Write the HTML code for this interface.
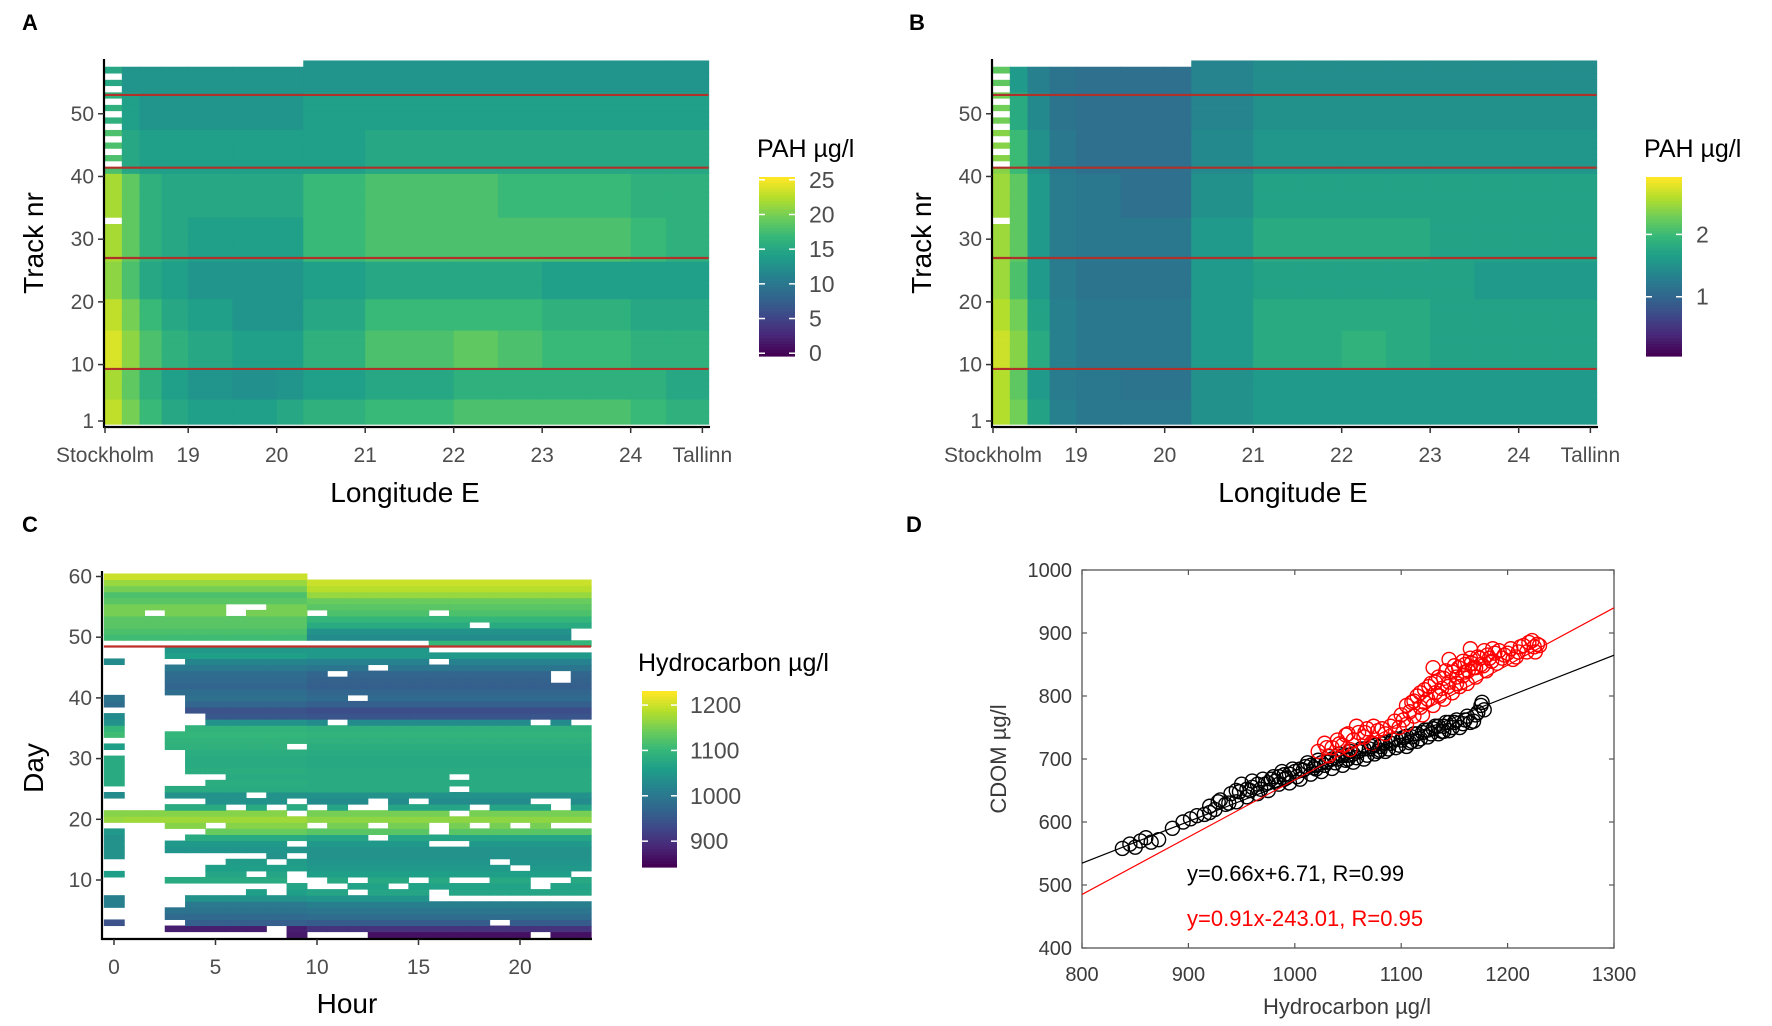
<!DOCTYPE html>
<html><head><meta charset="utf-8"><style>
html,body{margin:0;padding:0;background:#fff;}
svg{display:block;font-family:"Liberation Sans",Arial,sans-serif;}
</style></head><body>
<svg id="fig" width="1772" height="1026" viewBox="0 0 1772 1026" xmlns="http://www.w3.org/2000/svg">
<text x="22" y="30" font-size="22" font-weight="bold">A</text>
<text x="909" y="30" font-size="22" font-weight="bold">B</text>
<text x="22" y="532" font-size="22" font-weight="bold">C</text>
<text x="906" y="532" font-size="22" font-weight="bold">D</text>
<g id="pa"></g>
<g id="pb"></g>
<g id="pc"></g>
<g id="pd"></g>
</svg>
<script>
// ---------- data: panels A/B ----------
const colEdgesLon = [18.04,18.25,18.45,18.7,19.0,19.5,20.0,20.3,21.0,21.5,22.0,22.5,23.0,23.5,24.0,24.4,24.88];
const rowBandTracks = [[1,4],[5,9],[10,15],[16,20],[21,26],[27,33],[34,40],[41,47],[48,53],[54,58]];
const pahA = [
[23,20,17,15,14,14,15,16,17,17,18,18,18,18,17,16],
[22,19,16,14,13,12.5,13,14,15,15,16,16,16,16,16,15],
[24,21,18,16,15,14,14,16,18,18,19,18,17,17,16,16],
[23,20,17,15,14,13,13,15,17,17,17,17,16,16,15,15],
[21,18,15,14,13,13,13,14,15,15,15,15,14,14,14,14],
[22,19,16,15,14,14,14,17,18,18,18,18,18,18,17,16],
[22,19,16,15,15,15,15,17,18,18,18,17,17,17,16,16],
[18,15,14,14,14,14,14,14,15,15,15,15,15,15,15,15],
[16,14,13,13,13,13,13,14,14,14,14,14,14,14,14,14],
[15,13,13,13,13,13,13,13,13,13,13,13,13,13,13,13]];
const pahB = [
[2.6,2.3,1.7,1.3,1.2,1.2,1.2,1.5,1.6,1.6,1.6,1.6,1.6,1.6,1.6,1.6],
[2.6,2.2,1.6,1.25,1.2,1.15,1.15,1.5,1.6,1.6,1.6,1.6,1.6,1.6,1.6,1.6],
[2.7,2.4,1.8,1.3,1.2,1.2,1.2,1.6,1.8,1.8,1.9,1.8,1.7,1.7,1.7,1.7],
[2.6,2.3,1.7,1.3,1.2,1.2,1.2,1.6,1.8,1.8,1.8,1.8,1.7,1.7,1.7,1.7],
[2.5,2.1,1.6,1.25,1.15,1.15,1.15,1.6,1.7,1.7,1.7,1.7,1.7,1.6,1.6,1.6],
[2.5,2.2,1.6,1.25,1.2,1.2,1.2,1.6,1.8,1.8,1.8,1.8,1.7,1.7,1.7,1.7],
[2.5,2.2,1.6,1.25,1.2,1.1,1.1,1.5,1.7,1.7,1.7,1.7,1.7,1.7,1.7,1.7],
[2.4,2.0,1.5,1.2,1.1,1.1,1.1,1.4,1.55,1.55,1.55,1.55,1.55,1.55,1.55,1.55],
[2.3,1.8,1.4,1.15,1.1,1.1,1.1,1.35,1.5,1.5,1.5,1.5,1.5,1.5,1.5,1.5],
[2.2,1.6,1.3,1.15,1.1,1.1,1.1,1.35,1.45,1.45,1.45,1.45,1.45,1.45,1.45,1.45]];
const whiteTracksA = [42,44,46,48,50,52,54,56,33];
const whiteTracksB = [42,44,46,48,50,52,54,56,33];
const redTracks = [9.3,27,41.4,53];
const lonTickVals = [18.06,19,20,21,22,23,24,24.81];
const lonTickLabels = ["Stockholm","19","20","21","22","23","24","Tallinn"];
const trackTickVals = [1,10,20,30,40,50];
const legendTicksA = [0,5,10,15,20,25];
const legendTicksB = [1,2];

// ---------- data: panel C ----------
const cEarly = [870,875,960,975,990,1000,1040,1060,1070,1080,1070,1060,1055,1040,1045,1050,1080,1140,1160,1175,1160,1080,1040,1040,1080,1085,1080,1085,1080,1080,1085,1090,1095,1100,1095,1040,950,940,970,985,980,970,975,980,1000,1020,1060,1050,1100,1110,1120,1130,1130,1150,1150,1130,1120,1150,1170,1200];
const cLate = [860,900,955,980,995,1010,1045,1070,1065,1075,1060,1050,1045,1040,1040,1050,1070,1130,1150,1165,1150,1070,1030,1040,1080,1080,1080,1080,1075,1075,1080,1085,1090,1095,1090,1030,945,935,960,975,970,960,965,970,995,1015,1050,1050,1100,1030,1040,1080,1100,1120,1130,1140,1170,1190,1200,null];
const cHour0 = [null,null,940,null,null,1010,1010,null,null,null,1060,null,null,1040,1040,1040,1040,1050,null,1170,1160,null,null,1030,null,1080,1080,1080,1080,1080,null,1060,null,1110,1100,1040,1030,null,980,990,null,null,null,null,null,1030,null,null];
const cMissing = [[46,3],[46,16],[45,13],[44,11],[44,22],[43,22],[40,3],[40,12],[39,3],[38,3],[37,3],[37,4],[36,3],[36,4],[36,11],[36,21],[36,23],[35,3],[32,9],[31,3],[30,3],[29,3],[28,3],[27,3],[27,4],[27,5],[27,17],[26,3],[26,4],[25,17],[24,7],[23,3],[23,4],[23,9],[23,13],[23,15],[23,21],[23,22],[22,6],[22,8],[22,10],[22,12],[22,13],[22,18],[22,22],[21,9],[21,17],[19,5],[19,10],[19,13],[19,16],[19,18],[19,20],[19,22],[19,23],[18,3],[18,4],[18,16],[17,3],[17,13],[16,9],[16,16],[16,17],[14,3],[14,4],[14,5],[14,6],[14,7],[14,9],[13,3],[13,4],[13,5],[13,8],[13,19],[12,3],[12,4],[12,20],[11,3],[11,4],[11,7],[11,9],[11,23],[10,9],[10,10],[10,12],[10,15],[10,17],[10,18],[10,21],[10,22],[9,3],[9,4],[9,5],[9,6],[9,7],[9,8],[9,10],[9,11],[9,14],[9,21],[8,3],[8,4],[8,5],[8,6],[8,8],[8,12],[8,16],[7,3],[7,16],[7,17],[7,18],[7,19],[7,20],[7,21],[7,22],[7,23],[6,3],[3,3],[3,19],[2,8],[1,3],[1,4],[1,5],[1,6],[1,7],[1,8],[1,10],[1,11],[1,12],[1,21],[54,2],[54,6],[54,10],[54,16],[55,6],[55,7],[52,18],[51,23],[50,23]];
const hourTicks = [0,5,10,15,20];
const dayTicks = [10,20,30,40,50,60];
const legendTicksC = [900,1000,1100,1200];

// ---------- data: panel D ----------
const blackX = [838,845,850,855,860,865,872,885,895,902,908,915,920,925,930,935,940,945,950,955,960,965,970,975,980,985,990,995,1000,1005,1010,1015,1020,1025,1030,1035,1040,1045,1050,1055,1060,1065,1070,1075,1080,1085,1090,1095,1100,1105,1110,1115,1120,1125,1130,1135,1140,1145,1150,1155,1160,1165,1170,1175,1178,945,955,965,975,985,995,1005,1015,1025,1035,1045,1055,1065,1075,1085,1095,1105,1115,1125,1135,1145,960,990,1020,1050,1080,1110,1140,
920,928,938,948,958,968,972,978,982,988,992,998,1002,1008,1012,1018,1022,1028,1032,1038,1042,1048,1052,1058,1062,1068,1072,1078,1082,1088,1092,1098,1102,1108,1112,1118,1122,1128,1132,1138,1142,1148,1152,1158,1162,1168,1172,1176];
const blackY = [558,565,560,570,575,568,572,590,600,605,610,612,625,620,635,628,645,632,660,640,655,645,668,650,672,660,675,662,680,668,688,676,690,680,695,685,700,690,706,695,712,700,716,708,720,712,725,718,730,720,735,728,742,735,748,740,752,745,758,750,762,758,770,785,778,650,652,660,662,672,676,684,690,694,700,705,708,716,722,726,732,736,740,746,752,758,665,668,684,700,714,728,744,
615,632,630,648,650,652,660,668,665,680,670,684,672,682,694,686,698,690,704,694,708,698,712,702,716,706,720,712,724,716,730,722,734,726,740,732,746,740,752,744,758,750,762,756,768,760,774,790];
const redX = [1022,1028,1032,1035,1040,1045,1048,1052,1055,1060,1065,1068,1072,1078,1085,1090,1098,1102,1105,1108,1110,1112,1115,1118,1120,1122,1125,1128,1130,1132,1135,1138,1140,1142,1145,1148,1150,1152,1155,1158,1160,1162,1165,1168,1170,1172,1175,1178,1180,1183,1186,1190,1195,1200,1205,1210,1215,1220,1225,1228,1165,1145,1130,
1100,1105,1112,1118,1122,1126,1132,1136,1140,1144,1148,1152,1154,1158,1160,1163,1166,1170,1174,1177,1181,1185,1188,1192,1197,1203,1208,1212,1218,1223,1226,1230,1050,1058,1066,1074,1082,1094,1030,1042];
const redY = [712,725,705,718,730,722,738,715,730,742,735,748,725,745,740,752,750,762,755,775,790,768,800,782,770,810,795,820,785,805,830,812,795,840,822,805,848,830,815,855,838,820,860,845,830,862,850,872,840,860,875,852,860,868,858,870,880,885,878,882,875,858,845,
770,785,792,805,790,815,822,800,828,815,838,820,845,832,850,840,852,845,860,848,865,855,868,872,865,875,862,878,870,888,870,880,740,752,742,752,748,760,718,724];
const fitBlack = [0.66, 6.71];
const fitRed = [0.91, -243.01];
const dXTicks = [800,900,1000,1100,1200,1300];
const dYTicks = [400,500,600,700,800,900,1000];

// ---------- helpers ----------
const NS = "http://www.w3.org/2000/svg";
function mk(parent, tag, attrs, text){
  const e = document.createElementNS(NS, tag);
  for (const k in attrs) e.setAttribute(k, attrs[k]);
  if (text !== undefined) e.textContent = text;
  parent.appendChild(e);
  return e;
}
const VIR = [[68,1,84],[72,40,120],[62,74,137],[49,104,142],[38,130,142],[31,158,137],[53,183,121],[109,205,89],[180,222,44],[253,231,37]];
function viridis(t){
  t = Math.max(0, Math.min(1, t));
  const p = t*(VIR.length-1), i = Math.min(VIR.length-2, Math.floor(p)), f = p - i;
  const a = VIR[i], b = VIR[i+1];
  return "rgb(" + [0,1,2].map(j => Math.round(a[j]+(b[j]-a[j])*f)).join(",") + ")";
}
const GREY = "#4d4d4d";

// ---------- panels A & B ----------
function trackPanel(g, ox, vals, vmin, vmax, whites, legendTicks, legendX, legendLabelFn){
  const xs = lon => ox + 105 + (lon - 18.06) * 88.5;
  const ys = tr => 421 - (tr - 1) * 6.27;
  const half = 3.15;
  rowBandTracks.forEach((band, bi) => {
    for (let tr = band[0]; tr <= band[1]; tr++) {
      for (let c = 0; c < colEdgesLon.length - 1; c++) {
        if (tr === 58 && colEdgesLon[c] < 20.3) continue;
        let fill = viridis((vals[bi][c] - vmin) / (vmax - vmin));
        if (c === 0 && whites.indexOf(tr) >= 0) fill = "#ffffff";
        const x0 = xs(colEdgesLon[c]), x1 = xs(colEdgesLon[c+1]);
        const r = mk(g, "rect", {x: x0, y: ys(tr) - half, width: x1 - x0 + 0.6, height: 2*half + 0.5, fill: fill});
        
        
      }
    }
  });
  redTracks.forEach(t => {
    const l = mk(g, "line", {x1: xs(18.04), x2: xs(24.88), y1: ys(t), y2: ys(t), stroke: "#b0302a", "stroke-width": 2.2});
    
    
  });
  const ya = mk(g, "line", {x1: ox+104, x2: ox+104, y1: 59, y2: 427, stroke: "#000", "stroke-width": 2.2});
  
  
  const xa = mk(g, "line", {x1: ox+103, x2: ox+710, y1: 427, y2: 427, stroke: "#000", "stroke-width": 2.2});
  
  
  trackTickVals.forEach(v => {
    mk(g, "line", {x1: ox+98, x2: ox+104, y1: ys(v), y2: ys(v), stroke: "#333", "stroke-width": 1.5});
    const t = mk(g, "text", {x: ox+94, y: ys(v)+7, "font-size": 21, fill: GREY, "text-anchor": "end"}, String(v));
    
    
  });
  lonTickVals.forEach((v, i) => {
    mk(g, "line", {x1: xs(v), x2: xs(v), y1: 427, y2: 433, stroke: "#333", "stroke-width": 1.5});
    const t = mk(g, "text", {x: xs(v), y: 462, "font-size": 21, fill: GREY, "text-anchor": "middle"}, lonTickLabels[i]);
    
    
  });
  const xt = mk(g, "text", {x: ox+405, y: 502, "font-size": 28, fill: "#000", "text-anchor": "middle"}, "Longitude E");
  
  
  const yt = mk(g, "text", {x: 0, y: 0, "font-size": 28, fill: "#000", "text-anchor": "middle", transform: "translate(" + (ox+43) + ",243) rotate(-90)"}, "Track nr");
  
  
  const lt = mk(g, "text", {x: legendX - 2, y: 157, "font-size": 25, fill: "#000"}, "PAH µg/l");
  
  
  const top = 177, bot = 356, n = 60;
  for (let i = 0; i < n; i++) {
    mk(g, "rect", {x: legendX, y: top + (bot-top)*i/n, width: 36, height: (bot-top)/n + 0.6, fill: viridis(1 - i/(n-1))});
  }
  legendTicks.forEach(v => {
    const y = legendLabelFn(v);
    mk(g, "line", {x1: legendX, x2: legendX+6, y1: y, y2: y, stroke: "#fff", "stroke-width": 1.5});
    mk(g, "line", {x1: legendX+30, x2: legendX+36, y1: y, y2: y, stroke: "#fff", "stroke-width": 1.5});
    const t = mk(g, "text", {x: legendX+50, y: y+8, "font-size": 23, fill: GREY}, String(v));
    
    
  });
}
trackPanel(document.getElementById("pa"), 0, pahA, -0.4, 25.4, whiteTracksA, legendTicksA, 759, v => 356 - (v + 0.4) / 25.8 * 179);
trackPanel(document.getElementById("pb"), 888, pahB, 0.05, 2.92, whiteTracksB, legendTicksB, 1646, v => 356 - (v - 0.05) / 2.87 * 179);

// ---------- panel C ----------
(function(){
  const g = document.getElementById("pc");
  const xs = h => 114 + h * 20.3;
  const ys = d => 880 - (d - 10) * 6.07;
  const vmin = 843, vmax = 1231;
  const missing = {};
  cMissing.forEach(p => { missing[p[0] + "_" + p[1]] = true; });
  for (let d = 1; d <= 60; d++) {
    for (let h = 0; h <= 23; h++) {
      let v = h <= 9 ? cEarly[d-1] : cLate[d-1];
      if (d <= 48 && h === 0) v = cHour0[d-1];
      if (d <= 48 && (h === 1 || h === 2) && !(d === 20 || d === 21)) v = null;
      if (d === 49 && h < 16) v = null;
      if (d === 48 && h >= 16) v = null;
      if (missing[d + "_" + h]) v = null;
      if (v === null || v === undefined) continue;
      const r = mk(g, "rect", {x: xs(h - 0.5), y: ys(d) - 3.04, width: 20.9, height: 6.6, fill: viridis((v - vmin) / (vmax - vmin))});
      
      
    }
  }
  const rl = mk(g, "line", {x1: xs(-0.5), x2: xs(23.5), y1: 646.5, y2: 646.5, stroke: "#c0302a", "stroke-width": 2.2});
  
  
  const ya = mk(g, "line", {x1: 102, x2: 102, y1: 571, y2: 940, stroke: "#000", "stroke-width": 2.2});
  
  
  const xa = mk(g, "line", {x1: 101, x2: 592, y1: 939, y2: 939, stroke: "#000", "stroke-width": 2.2});
  
  
  dayTicks.forEach(v => {
    mk(g, "line", {x1: 96, x2: 102, y1: ys(v), y2: ys(v), stroke: "#333", "stroke-width": 1.5});
    const t = mk(g, "text", {x: 92, y: ys(v)+7, "font-size": 21, fill: GREY, "text-anchor": "end"}, String(v));
    
    
  });
  hourTicks.forEach(v => {
    mk(g, "line", {x1: xs(v), x2: xs(v), y1: 939, y2: 945, stroke: "#333", "stroke-width": 1.5});
    const t = mk(g, "text", {x: xs(v), y: 974, "font-size": 21, fill: GREY, "text-anchor": "middle"}, String(v));
    
    
  });
  const xt = mk(g, "text", {x: 347, y: 1013, "font-size": 28, fill: "#000", "text-anchor": "middle"}, "Hour");
  
  
  const yt = mk(g, "text", {x: 0, y: 0, "font-size": 28, fill: "#000", "text-anchor": "middle", transform: "translate(43,768) rotate(-90)"}, "Day");
  
  
  const lt = mk(g, "text", {x: 638, y: 671, "font-size": 25, fill: "#000"}, "Hydrocarbon µg/l");
  
  
  const top = 691, bot = 867, n = 60;
  for (let i = 0; i < n; i++) {
    mk(g, "rect", {x: 642, y: top + (bot-top)*i/n, width: 35, height: (bot-top)/n + 0.6, fill: viridis(1 - i/(n-1))});
  }
  legendTicksC.forEach(v => {
    const y = bot - (v - vmin) / (vmax - vmin) * (bot - top);
    mk(g, "line", {x1: 642, x2: 648, y1: y, y2: y, stroke: "#fff", "stroke-width": 1.5});
    mk(g, "line", {x1: 671, x2: 677, y1: y, y2: y, stroke: "#fff", "stroke-width": 1.5});
    const t = mk(g, "text", {x: 690, y: y+8, "font-size": 23, fill: GREY}, String(v));
    
    
  });
})();

// ---------- panel D ----------
(function(){
  const g = document.getElementById("pd");
  const L = 1082, R = 1614, T = 570, B = 948;
  const xs = v => L + (v - 800) / 500 * (R - L);
  const ys = v => B - (v - 400) / 600 * (B - T);
  const frame = mk(g, "rect", {x: L, y: T, width: R-L, height: B-T, fill: "#fff", stroke: "#555", "stroke-width": 1.3});
  
  
  dXTicks.forEach(v => {
    mk(g, "line", {x1: xs(v), x2: xs(v), y1: B, y2: B-5, stroke: "#555", "stroke-width": 1.2});
    mk(g, "line", {x1: xs(v), x2: xs(v), y1: T, y2: T+5, stroke: "#555", "stroke-width": 1.2});
    const t = mk(g, "text", {x: xs(v), y: 981, "font-size": 20, fill: "#3a3a3a", "text-anchor": "middle"}, String(v));
    
    
  });
  dYTicks.forEach(v => {
    mk(g, "line", {x1: L, x2: L+5, y1: ys(v), y2: ys(v), stroke: "#555", "stroke-width": 1.2});
    mk(g, "line", {x1: R, x2: R-5, y1: ys(v), y2: ys(v), stroke: "#555", "stroke-width": 1.2});
    const t = mk(g, "text", {x: 1072, y: ys(v)+7, "font-size": 20, fill: "#3a3a3a", "text-anchor": "end"}, String(v));
    
    
  });
  const clip = mk(g, "clipPath", {id: "dclip"});
  mk(clip, "rect", {x: L, y: T, width: R-L, height: B-T});
  const pts = mk(g, "g", {"clip-path": "url(#dclip)"});
  blackX.forEach((x, i) => {
    const c = mk(pts, "circle", {cx: xs(x), cy: ys(blackY[i]), r: 7, fill: "none", stroke: "#000", "stroke-width": 1.4});
    
    
  });
  redX.forEach((x, i) => {
    const c = mk(pts, "circle", {cx: xs(x), cy: ys(redY[i]), r: 7, fill: "none", stroke: "#ff0000", "stroke-width": 1.4});
    
    
  });
  const lb = mk(pts, "line", {x1: xs(800), y1: ys(fitBlack[0]*800+fitBlack[1]), x2: xs(1300), y2: ys(fitBlack[0]*1300+fitBlack[1]), stroke: "#000", "stroke-width": 1.2});
  
  
  const lr = mk(pts, "line", {x1: xs(800), y1: ys(fitRed[0]*800+fitRed[1]), x2: xs(1300), y2: ys(fitRed[0]*1300+fitRed[1]), stroke: "#ff0000", "stroke-width": 1.2});
  
  
  const e1 = mk(g, "text", {x: 1187, y: 881, "font-size": 22, fill: "#000"}, "y=0.66x+6.71, R=0.99");
  
  
  const e2 = mk(g, "text", {x: 1187, y: 926, "font-size": 22, fill: "#ff0000"}, "y=0.91x-243.01, R=0.95");
  
  
  const xt = mk(g, "text", {x: 1347, y: 1014, "font-size": 22, fill: "#3a3a3a", "text-anchor": "middle"}, "Hydrocarbon µg/l");
  
  
  const yt = mk(g, "text", {x: 0, y: 0, "font-size": 22, fill: "#3a3a3a", "text-anchor": "middle", transform: "translate(1006,759) rotate(-90)"}, "CDOM µg/l");
  
  
})();
</script>
</body></html>
